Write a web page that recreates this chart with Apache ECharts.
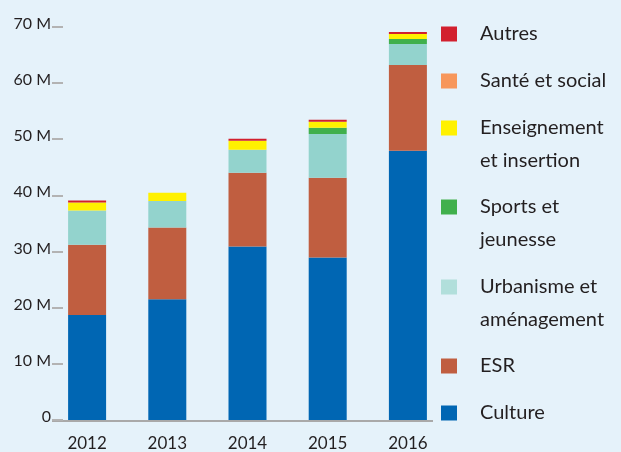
<!DOCTYPE html>
<html>
<head>
<meta charset="utf-8">
<script src="https://cdn.jsdelivr.net/npm/echarts@6/dist/echarts.min.js"></script>
<style>
    html, body { margin: 0; padding: 0; background: #e5f2fa; }
    #main { width: 621px; height: 452px; }
</style>
</head>
<body>
<div id="main"></div>
<script>
// données (en millions)
var annees = ['2012', '2013', '2014', '2015', '2016'];
var culture = [18.7, 21.5, 30.9, 28.9, 47.9];
var esr = [12.5, 12.75, 13.1, 14.2, 15.3];
var urbanisme = [6.1, 4.75, 4.1, 7.8, 3.7];
var sports = [0, 0, 0, 1.1, 0.9];
var enseignement = [1.4, 1.45, 1.6, 1.07, 0.9];
var sante = [0, 0, 0, 0, 0];
var autres = [0.35, 0, 0.35, 0.36, 0.36];
var ticksY = [0, 10, 20, 30, 40, 50, 60, 70];

var police = 'Lato';
var texte = '#231f20';

// séries empilées, du bas vers le haut
var series_def = [
    { name: 'Culture', data: culture, color: '#0066b3', legend: '#0066b3' },
    { name: 'ESR', data: esr, color: '#c05e40', legend: '#c05e40' },
    { name: 'Urbanisme et aménagement', data: urbanisme, color: '#93d3cd', legend: '#b1dfdb' },
    { name: 'Sports et jeunesse', data: sports, color: '#40b04c', legend: '#40b04c' },
    { name: 'Enseignement et insertion', data: enseignement, color: '#fff100', legend: '#fff100' },
    { name: 'Santé et social', data: sante, color: '#f7975b', legend: '#f7975b' },
    { name: 'Autres', data: autres, color: '#d2202e', legend: '#d2202e' }
];

// légende : une par élément (libellé, 1re ligne, 2e ligne, centre vertical)
var legende = [
    ['Autres', 'Autres', null, 34],
    ['Santé et social', 'Santé et social', null, 81],
    ['Enseignement et insertion', 'Enseignement', 'et insertion', 128],
    ['Sports et jeunesse', 'Sports et', 'jeunesse', 207],
    ['Urbanisme et aménagement', 'Urbanisme et', 'aménagement', 287],
    ['ESR', 'ESR', null, 366],
    ['Culture', 'Culture', null, 413]
];

function couleurLegende(nom) {
    for (var i = 0; i < series_def.length; i++) {
        if (series_def[i].name == nom) return series_def[i].legend;
    }
}

// une ligne vide au-dessus : l'icône reste en face de la 1re ligne de texte
var legends = legende.map(function (l) {
    var deuxLignes = l[2] != null;
    return {
        orient: 'vertical',
        left: 441,
        top: deuxLignes ? l[3] - 49.5 : l[3] - 16.5,
        padding: 0,
        selectedMode: false,
        icon: 'rect',
        itemWidth: 16,
        itemHeight: 15,
        data: [{ name: l[0], itemStyle: { color: couleurLegende(l[0]) } }],
        formatter: function () {
            return deuxLignes ? ' \n' + l[1] + '\n' + l[2] : l[1];
        },
        textStyle: {
            fontFamily: police,
            fontSize: 20,
            color: texte,
            lineHeight: 33,
            padding: [0, 0, 0, 18]
        }
    };
});

var option = {
    backgroundColor: '#e5f2fa',
    animation: false,
    legend: legends,
    grid: {
        left: 47,
        width: 401,
        top: 26.7,
        bottom: 31.2
    },
    xAxis: {
        type: 'category',
        data: annees,
        axisLine: { show: false },
        axisTick: { show: false },
        axisLabel: {
            fontFamily: police,
            fontSize: 17,
            color: texte,
            margin: 15
        }
    },
    yAxis: {
        type: 'value',
        min: 0,
        max: 70,
        interval: 10,
        offset: -5,
        splitLine: { show: false },
        axisLine: { show: false },
        axisTick: {
            show: true,
            inside: true,
            length: 11,
            lineStyle: { color: '#b3b3b3', width: 2 }
        },
        axisLabel: {
            fontFamily: police,
            fontSize: 16,
            color: texte,
            margin: 1,
            verticalAlign: 'bottom',
            lineHeight: 6,
            formatter: function (v) {
                return ticksY.indexOf(v) == 0 ? '0' : v + ' M';
            }
        }
    },
    graphic: [{
        type: 'line',
        shape: { x1: 52, y1: 421, x2: 433, y2: 421 },
        style: { stroke: '#a9a9a9', lineWidth: 2 }
    }],
    series: series_def.map(function (s) {
        return {
            name: s.name,
            type: 'bar',
            stack: 'total',
            barWidth: 38,
            itemStyle: { color: s.color },
            data: s.data
        };
    })
};

var chart = echarts.init(document.getElementById('main'));
chart.setOption(option);
</script>
</body>
</html>
